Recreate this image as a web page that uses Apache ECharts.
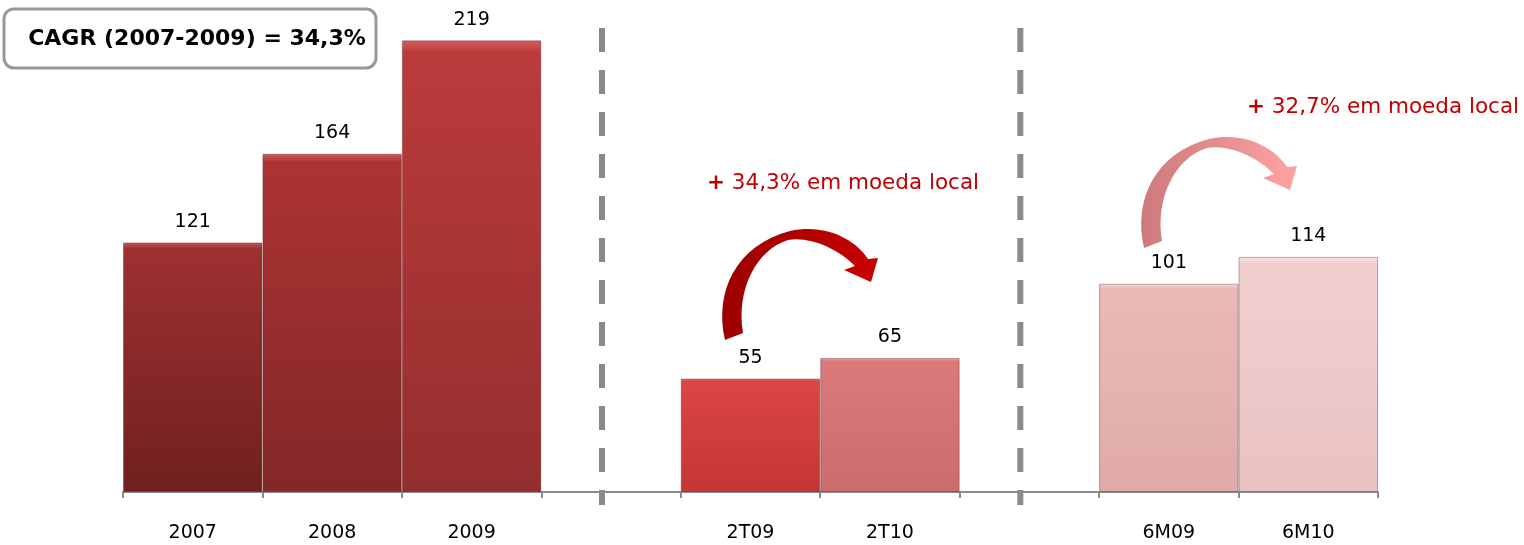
<!DOCTYPE html>
<html>
<head>
<meta charset="utf-8">
<script src="https://cdn.jsdelivr.net/npm/echarts@6/dist/echarts.min.js"></script>
<style>
html,body{margin:0;padding:0;background:#fff;}
#main{width:1524px;height:545px;}
</style>
</head>
<body>
<div id="main"></div>
<script>
// ---- data ----
const categories = ['2007', '2008', '2009', '', '2T09', '2T10', '', '6M09', '6M10'];
const values = [121, 164, 219, null, 55, 65, null, 101, 114];
const cagrText = 'CAGR (2007-2009) = 34,3%';
const growthQ = '34,3% em moeda local';
const growthS = '32,7% em moeda local';

// ---- styles ----
const barTop = ['#9e3030', '#ad3333', '#bb3b3b', null, '#dc4545', '#db7a7a', null, '#ebb8b8', '#f2cfcf'];
const barBot = ['#702020', '#832727', '#942e2e', null, '#c43636', '#cb6c6c', null, '#e0aaaa', '#e9c2c2'];
const barHi = ['#c85a5a', '#d05c5c', '#d86060', null, '#f07070', '#f0a0a0', null, '#f8d8d8', '#fbe6e6'];

// curved arrow shape (annotation decoration)
const CurvedArrow = echarts.graphic.extendShape({
  shape: {dx: 0, dy: 0},
  buildPath: function (ctx, s) {
    const X = x => x + s.dx, Y = y => y + s.dy;
    ctx.moveTo(X(725), Y(340));
    ctx.bezierCurveTo(X(714), Y(292), X(736), Y(245), X(790), Y(231));
    ctx.bezierCurveTo(X(826), Y(223), X(856), Y(240), X(868), Y(259));
    ctx.lineTo(X(878), Y(258));
    ctx.lineTo(X(871), Y(282));
    ctx.lineTo(X(844), Y(270));
    ctx.lineTo(X(855), Y(266));
    ctx.bezierCurveTo(X(838), Y(248), X(808), Y(236), X(788), Y(240));
    ctx.bezierCurveTo(X(756), Y(250), X(736), Y(290), X(743), Y(333));
    ctx.closePath();
  }
});
echarts.graphic.registerShape('curvedArrow', CurvedArrow);

const chart = echarts.init(document.getElementById('main'), null, {renderer: 'canvas'});

const data = values.map((v, i) => v == null ? null : {
  value: v,
  itemStyle: {
    color: new echarts.graphic.LinearGradient(0, 0, 0, 1, [
      {offset: 0, color: barHi[i]},
      {offset: 0.025, color: barTop[i]},
      {offset: 1, color: barBot[i]}
    ]),
    borderColor: 'rgba(80,20,20,0.35)',
    borderWidth: 1
  }
});

const option = {
  animation: false,
  grid: {left: 123, right: 146, top: 28, bottom: 53},
  xAxis: {
    type: 'category',
    data: categories,
    axisLine: {lineStyle: {color: '#8c8c8c', width: 2}},
    axisTick: {show: true, length: 6, lineStyle: {color: '#8c8c8c', width: 2}},
    axisLabel: {color: '#000', fontFamily: 'DejaVu Sans', fontSize: 19, margin: 32}
  },
  yAxis: {type: 'value', min: 0, max: 225, show: false, splitLine: {show: false}},
  series: [{
    type: 'bar',
    data: data,
    barWidth: '100%',
    barCategoryGap: 0,
    label: {show: true, position: 'top', distance: 11, color: '#000', fontFamily: 'DejaVu Sans', fontSize: 19}
  }]
};
chart.setOption(option);

// decorations positioned from the axis scale
const w = chart.convertToPixel({xAxisIndex: 0}, 1) - chart.convertToPixel({xAxisIndex: 0}, 0);
const sep1 = chart.convertToPixel({xAxisIndex: 0}, 3) - w * 0.065;
const sep2 = chart.convertToPixel({xAxisIndex: 0}, 6) - w * 0.065;

chart.setOption({
  graphic: [
    {type: 'line', shape: {x1: sep1, y1: 28, x2: sep1, y2: 505},
     style: {stroke: '#8a8a8a', lineWidth: 6, lineDash: [24, 18]}},
    {type: 'line', shape: {x1: sep2, y1: 28, x2: sep2, y2: 505},
     style: {stroke: '#8a8a8a', lineWidth: 6, lineDash: [24, 18]}},
    {type: 'rect', shape: {x: 4, y: 9, width: 372, height: 59, r: 10},
     style: {fill: '#fff', stroke: '#999', lineWidth: 3}},
    {type: 'text', x: 197, y: 39,
     style: {text: cagrText, fill: '#000', font: 'bold 22px "DejaVu Sans"', align: 'center', verticalAlign: 'middle'}},
    {type: 'curvedArrow', shape: {dx: 0, dy: 0},
     style: {fill: new echarts.graphic.LinearGradient(0, 0, 1, 0, [
       {offset: 0, color: '#9c0000'}, {offset: 1, color: '#c80000'}])}},
    {type: 'curvedArrow', shape: {dx: 419, dy: -92},
     style: {fill: new echarts.graphic.LinearGradient(0, 0, 1, 0, [
       {offset: 0, color: '#cc7a7a'}, {offset: 1, color: '#ffa2a2'}])}},
    {type: 'text', x: 707, y: 183,
     style: {text: '{b|+} ' + growthQ, rich: {b: {fontWeight: 'bold', fontSize: 21.5, fill: '#c00000', fontFamily: 'DejaVu Sans'}},
       fill: '#c00000', font: '21.5px "DejaVu Sans"', verticalAlign: 'middle'}},
    {type: 'text', x: 1247, y: 107,
     style: {text: '{b|+} ' + growthS, rich: {b: {fontWeight: 'bold', fontSize: 21.5, fill: '#c00000', fontFamily: 'DejaVu Sans'}},
       fill: '#c00000', font: '21.5px "DejaVu Sans"', verticalAlign: 'middle'}}
  ]
});
</script>
</body>
</html>
